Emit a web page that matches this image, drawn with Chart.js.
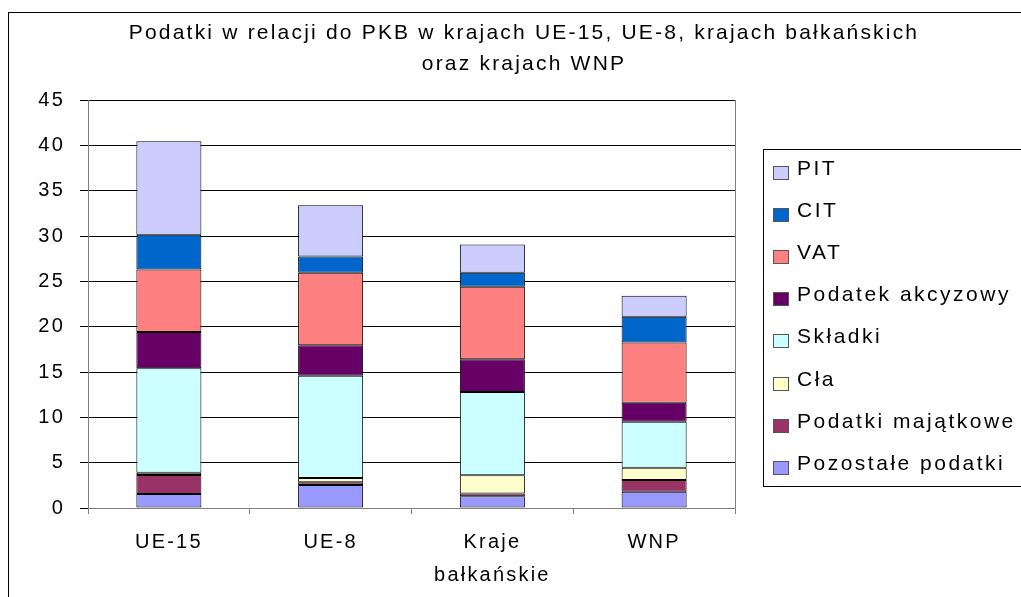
<!DOCTYPE html>
<html>
<head>
<meta charset="utf-8">
<script src="https://cdn.jsdelivr.net/npm/chart.js@4.4.1/dist/chart.umd.min.js"></script>
<style>
  html, body { margin: 0; padding: 0; background: #fff; }
  #wrap { width: 1021px; height: 597px; position: relative; }
</style>
</head>
<body>
<div id="wrap"><canvas id="c"></canvas></div>
<script>
const categories = ['UE-15', 'UE-8', ['Kraje', 'bałkańskie'], 'WNP'];
const yTicks = [0, 5, 10, 15, 20, 25, 30, 35, 40, 45];

const pozostale = [1.55, 2.55, 1.3, 1.8];
const majatkowe = [2.1, 0.3, 0.3, 1.3];
const cla = [0.25, 0.45, 2.0, 1.35];
const skladki = [11.5, 11.3, 9.2, 5.05];
const akcyza = [4.0, 3.35, 3.6, 2.1];
const vat = [6.9, 8.0, 8.0, 6.65];
const cit = [3.85, 1.8, 1.55, 2.85];
const pit = [10.3, 5.65, 3.1, 2.3];

const seriesNames = ['Pozostałe podatki', 'Podatki majątkowe', 'Cła', 'Składki', 'Podatek akcyzowy', 'VAT', 'CIT', 'PIT'];
const seriesValues = [pozostale, majatkowe, cla, skladki, akcyza, vat, cit, pit];
const seriesColors = ['#9999FF', '#993366', '#FFFFCC', '#CCFFFF', '#660066', '#FF8080', '#0066CC', '#CCCCFF'];

const FONT = "'Liberation Sans', Arial, sans-serif";
const LS = '2.2px';

const spacingPlugin = {
  id: 'spacing',
  beforeLayout(chart) { chart.ctx.letterSpacing = LS; },
  beforeDraw(chart) { chart.ctx.letterSpacing = LS; }
};

const framePlugin = {
  id: 'frame',
  beforeDraw(chart) {
    const ctx = chart.ctx;
    ctx.save();
    ctx.fillStyle = '#fff';
    ctx.fillRect(0, 0, chart.width, chart.height);
    ctx.strokeStyle = '#000';
    ctx.lineWidth = 1;
    ctx.strokeRect(8.5, 12.5, chart.width + 20, chart.height + 20);
    ctx.restore();
  }
};

const legendPlugin = {
  id: 'customLegend',
  afterDraw(chart) {
    const ctx = chart.ctx;
    ctx.save();
    ctx.letterSpacing = '2.5px';
    ctx.strokeStyle = '#000';
    ctx.lineWidth = 1;
    ctx.strokeRect(763.5, 149.5, 300, 337);
    ctx.font = "21px " + FONT;
    ctx.textBaseline = 'middle';
    ctx.textAlign = 'left';
    const ds = chart.data.datasets;
    for (let k = 0; k < ds.length; k++) {
      const d = ds[ds.length - 1 - k];
      const cy = Math.round(169 + k * 42.1);
      ctx.fillStyle = d.backgroundColor;
      ctx.fillRect(773, cy - 3, 15, 13);
      ctx.strokeStyle = '#555';
      ctx.strokeRect(773.5, cy - 2.5, 15, 13);
      ctx.fillStyle = '#000';
      ctx.fillText(d.label, 797, cy);
    }
    ctx.restore();
  }
};

const datasets = seriesNames.map((name, i) => ({
  label: name,
  data: seriesValues[i],
  backgroundColor: seriesColors[i],
  borderColor: '#000',
  borderWidth: 1,
  borderSkipped: false,
  barPercentage: 0.402,
  categoryPercentage: 1.0
}));

new Chart(document.getElementById('c'), {
  type: 'bar',
  data: { labels: categories, datasets: datasets },
  options: {
    responsive: true,
    maintainAspectRatio: false,
    animation: false,
    layout: { padding: { left: 27, right: 0, top: 0, bottom: 0 } },
    plugins: {
      legend: { display: false },
      tooltip: { enabled: false },
      title: {
        display: true,
        text: ['Podatki w relacji do PKB w krajach UE-15, UE-8, krajach bałkańskich', 'oraz krajach WNP'],
        color: '#000',
        font: { family: FONT, size: 21, weight: 'normal', lineHeight: 31 / 21 },
        padding: { top: 18, bottom: 20 }
      }
    },
    scales: {
      x: {
        stacked: true,
        grid: { display: true, drawOnChartArea: false, drawTicks: true, tickLength: 6, color: '#808080', offset: true },
        border: { display: true, color: '#808080' },
        ticks: { color: '#000', font: { family: FONT, size: 20, lineHeight: 33 / 20 }, padding: 12, maxRotation: 0, autoSkip: false },
        afterFit(scale) { scale.height = 89; }
      },
      y: {
        stacked: true,
        min: 0, max: 45,
        afterBuildTicks(scale) { scale.ticks = yTicks.map(v => ({ value: v })); },
        grid: { color: '#000', lineWidth: 1, tickLength: 8 },
        border: { display: true, color: '#808080' },
        ticks: { color: '#000', font: { family: FONT, size: 20 }, padding: 15 },
        afterFit(scale) { scale.width = 61; }
      },
      yRight: {
        position: 'right',
        display: true,
        min: 0, max: 45,
        grid: { display: false, drawOnChartArea: false },
        border: { display: true, color: '#808080' },
        ticks: { display: false },
        afterFit(scale) { scale.width = 286; }
      }
    }
  },
  plugins: [spacingPlugin, framePlugin, legendPlugin]
});
</script>
</body>
</html>
